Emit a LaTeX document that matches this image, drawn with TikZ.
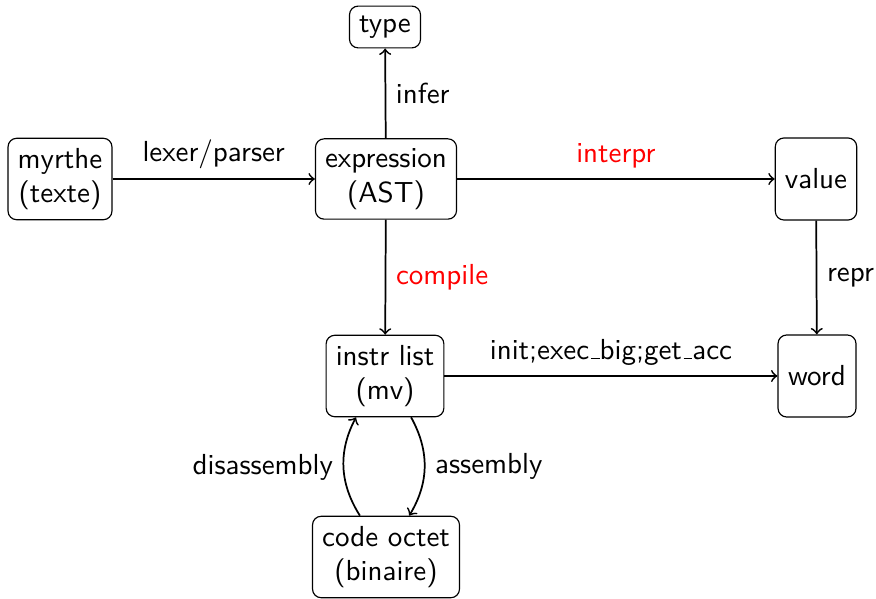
\documentclass[tikz,border=0pt]{standalone}
\usetikzlibrary{arrows}
\newcommand\myus{\leavevmode\kern.06em\vbox{\hrule width.3em}}
\begin{document}
\begin{tikzpicture}[x=0.345pt,y=0.345pt,
  every node/.style={font=\sffamily},
  box/.style={draw,thin,rounded corners=3pt,align=center},
  sq/.style={box,minimum height=28.3pt},
  conn/.style={->,semithick},
  hot/.style={text=red}]
\useasboundingbox (0,0) rectangle (876,598);
\node[box] (myrthe) at (60,419) {myrthe\\(texte)};
\node[box] (expr) at (386,419) {expression\\(AST)};
\node[box] (type) at (385,571) {type};
\node[sq] (value) at (816,419) {value};
\node[box] (instr) at (385,222) {instr list\\(mv)};
\node[sq,minimum width=26.9pt] (word) at (817,222) {word};
\node[box] (code) at (386,41) {code octet\\(binaire)};

\draw[conn] (myrthe) -- node[above] {lexer/parser} (expr);
\draw[conn] (expr) -- node[right] {infer} (type);
\draw[conn] (expr) -- node[above,hot] {interpr} (value);
\draw[conn] (expr) -- node[right,hot] {compile} (instr);
\draw[conn] (value) -- node[right] {repr} (word);
\draw[conn] (instr) -- node[above] {init;exec\myus big;get\myus acc} (word);
\coordinate (as) at ([xshift=9pt]instr.south);
\coordinate (ae) at ([xshift=8pt]code.north);
\coordinate (ds) at ([xshift=-9pt]code.north);
\coordinate (de) at ([xshift=-10pt]instr.south);
\draw[conn] (as) to[bend left=30] node[right] {assembly} (ae);
\draw[conn] (ds) to[bend left=30] node[left] {disassembly} (de);
\end{tikzpicture}
\end{document}
